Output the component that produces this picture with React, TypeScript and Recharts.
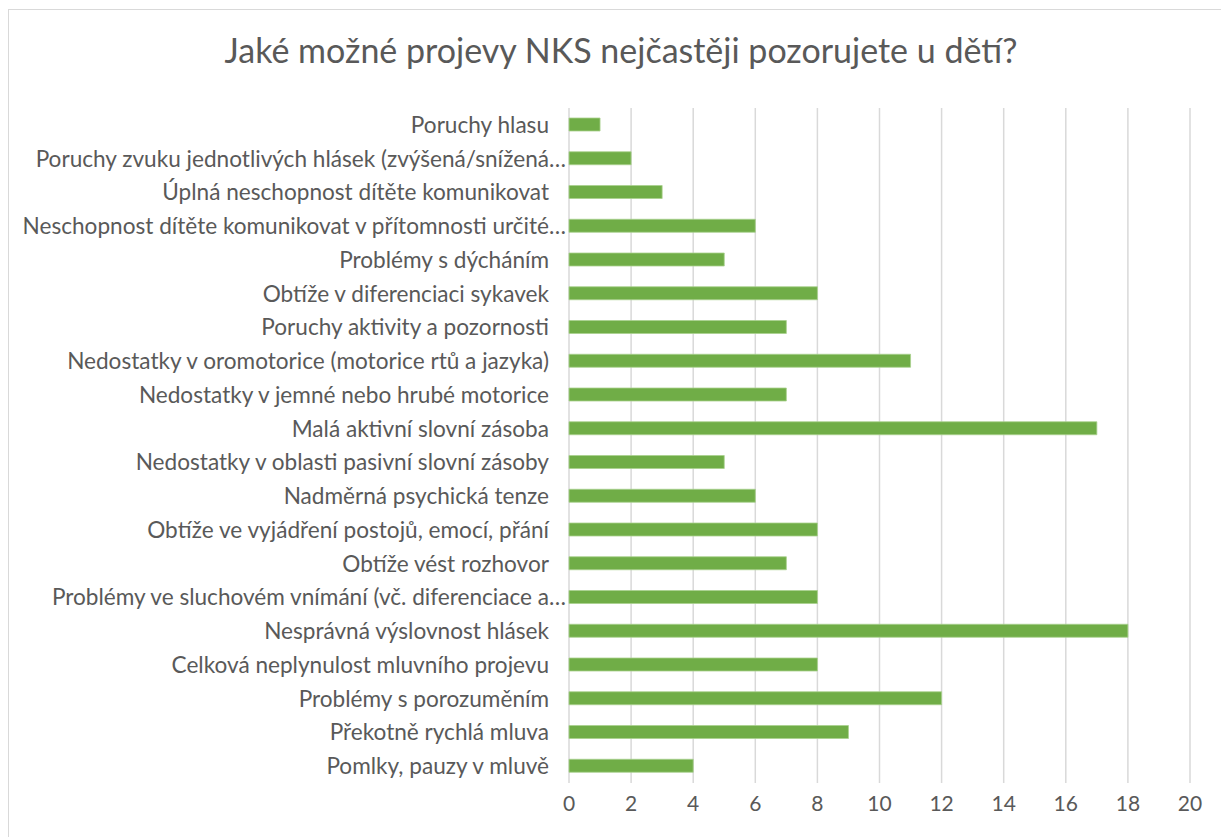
import React from 'react';
import { BarChart, Bar, XAxis, YAxis, CartesianGrid } from 'recharts';

const categories = [
  'Poruchy hlasu',
  'Poruchy zvuku jednotlivých hlásek (zvýšená/snížená…',
  'Úplná neschopnost dítěte komunikovat',
  'Neschopnost dítěte komunikovat v přítomnosti určité…',
  'Problémy s dýcháním',
  'Obtíže v diferenciaci sykavek',
  'Poruchy aktivity a pozornosti',
  'Nedostatky v oromotorice (motorice rtů a jazyka)',
  'Nedostatky v jemné nebo hrubé motorice',
  'Malá aktivní slovní zásoba',
  'Nedostatky v oblasti pasivní slovní zásoby',
  'Nadměrná psychická tenze',
  'Obtíže ve vyjádření postojů, emocí, přání',
  'Obtíže vést rozhovor',
  'Problémy ve sluchovém vnímání (vč. diferenciace a…',
  'Nesprávná výslovnost hlásek',
  'Celková neplynulost mluvního projevu',
  'Problémy s porozuměním',
  'Překotně rychlá mluva',
  'Pomlky, pauzy v mluvě',
];

const counts = [1, 2, 3, 6, 5, 8, 7, 11, 7, 17, 5, 6, 8, 7, 8, 18, 8, 12, 9, 4];

const xTicks = [0, 2, 4, 6, 8, 10, 12, 14, 16, 18, 20];

const title = 'Jaké možné projevy NKS nejčastěji pozorujete u dětí?';

const data = categories.map((name, i) => ({ name, value: counts[i] }));

const font = 'Lato, "Open Sans", sans-serif';
const textColor = '#595959';

// category label: text right-aligned, a trailing ellipsis hangs past the edge like in Excel
const CategoryTick = (props: any) => {
  const { x, y, payload } = props;
  const label: string = payload.value;
  const cut = label.endsWith('…');
  const main = cut ? label.slice(0, -1) : label;
  return (
    <g>
      <text x={x} y={y} dy="0.35em" textAnchor="end" fontSize={22.6} fill={textColor} fontFamily={font}>
        {main}
      </text>
      {cut && (
        <text x={x} y={y} dy="0.35em" textAnchor="start" fontSize={22.6} fill={textColor} fontFamily={font}>
          …
        </text>
      )}
    </g>
  );
};

export default function App() {
  return (
    <div style={{ position: 'fixed', left: 0, top: 0, width: 1221, height: 837, overflow: 'hidden', background: '#fff', fontFamily: font }}>
      {/* chart frame, only its top and left edges fall inside the picture */}
      <div style={{ position: 'absolute', left: 8, top: 9, width: 1260, height: 880, border: '1px solid #d9d9d9' }} />
      <div style={{ position: 'absolute', left: 0, top: 29, width: 1242, textAlign: 'center', fontSize: 34, color: textColor, lineHeight: '42px' }}>
        {title}
      </div>
      <div style={{ position: 'absolute', left: 0, top: 0 }}>
        <BarChart
          width={1221}
          height={837}
          data={data}
          layout="vertical"
          margin={{ top: 108, right: 31, left: 0, bottom: 0 }}
        >
          <CartesianGrid horizontal={false} stroke="#d9d9d9" strokeWidth={1.5} />
          <XAxis
            type="number"
            domain={[0, 20]}
            ticks={xTicks}
            axisLine={false}
            tickLine={false}
            tickSize={0}
            tickMargin={13}
            height={54}
            interval={0}
            tick={{ fontSize: 21, fill: textColor, fontFamily: font }}
          />
          <YAxis
            type="category"
            dataKey="name"
            width={569}
            axisLine={false}
            tickLine={false}
            tickSize={0}
            tickMargin={20}
            interval={0}
            tick={<CategoryTick />}
          />
          <Bar dataKey="value" fill="#70ad47" stroke="#a9d08e" strokeWidth={0.8} barSize={13} isAnimationActive={false} />
        </BarChart>
      </div>
    </div>
  );
}
